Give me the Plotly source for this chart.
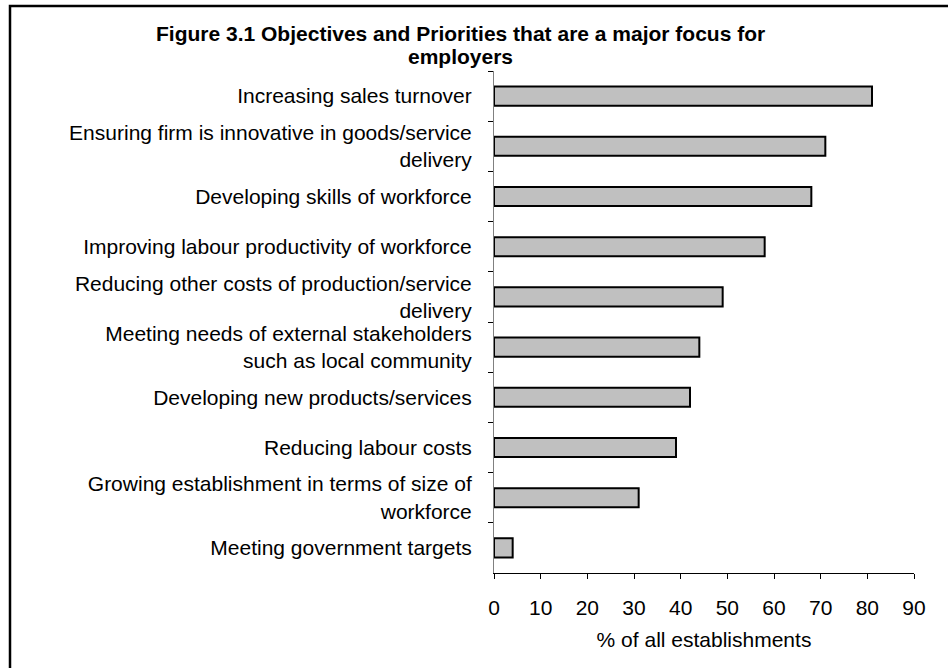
import plotly.graph_objects as go

# Objectives / priorities, listed top to bottom
categories = [
    "Increasing sales turnover",
    "Ensuring firm is innovative in goods/service<br>delivery",
    "Developing skills of workforce",
    "Improving labour productivity of workforce",
    "Reducing other costs of production/service<br>delivery",
    "Meeting needs of external stakeholders<br>such as local community",
    "Developing new products/services",
    "Reducing labour costs",
    "Growing establishment in terms of size of<br>workforce",
    "Meeting government targets",
]
# % of all establishments for which each is a major focus
values = [81, 71, 68, 58, 49, 44, 42, 39, 31, 4]

x_ticks = [0, 10, 20, 30, 40, 50, 60, 70, 80, 90]

FONT = "Liberation Sans, Arial, sans-serif"

fig = go.Figure(
    go.Bar(
        x=values,
        y=categories,
        orientation="h",
        width=0.38,
        marker=dict(color="#C0C0C0", line=dict(color="#000000", width=2)),
        hoverinfo="x+y",
    )
)

fig.update_layout(
    width=948,
    height=668,
    margin=dict(l=494, r=34, t=71, b=95),
    paper_bgcolor="white",
    plot_bgcolor="white",
    showlegend=False,
    font=dict(family=FONT, size=21, color="#000000"),
    xaxis=dict(
        range=[0, 90],
        tickvals=x_ticks,
        ticks="outside",
        ticklen=5,
        tickcolor="#000000",
        showline=True,
        linecolor="#000000",
        linewidth=1,
        showgrid=False,
        zeroline=False,
        ticklabelstandoff=11,
        tickfont=dict(size=21),
        title=dict(text="% of all establishments", standoff=14,
                   font=dict(size=21)),
        fixedrange=True,
    ),
    yaxis=dict(
        type="category",
        autorange=False,
        range=[9.5, -0.5],
        ticks="outside",
        tickson="boundaries",
        ticklen=5,
        tickcolor="#000000",
        showline=True,
        linecolor="#808080",
        linewidth=1,
        showgrid=False,
        zeroline=False,
        ticklabelstandoff=17,
        tickfont=dict(size=21),
        fixedrange=True,
    ),
)

# Two-line bold title
fig.add_annotation(
    text="<b>Figure 3.1 Objectives and Priorities that are a major focus for</b>",
    xref="paper", yref="paper", x=(460 - 494) / 420, y=(573 - 33) / 502,
    xanchor="center", yanchor="middle", showarrow=False,
    font=dict(family=FONT, size=21, color="#000000"),
)
fig.add_annotation(
    text="<b>employers</b>",
    xref="paper", yref="paper", x=(460 - 494) / 420, y=(573 - 56) / 502,
    xanchor="center", yanchor="middle", showarrow=False,
    font=dict(family=FONT, size=21, color="#000000"),
)

# Frame around the chart
fig.add_shape(
    type="rect", xref="paper", yref="paper",
    x0=(10 - 494) / 420, x1=(980 - 494) / 420,
    y0=(573 - 700) / 502, y1=(573 - 6) / 502,
    line=dict(color="#000000", width=2.5), fillcolor="rgba(0,0,0,0)",
    layer="above",
)

fig.write_html("out.html")
